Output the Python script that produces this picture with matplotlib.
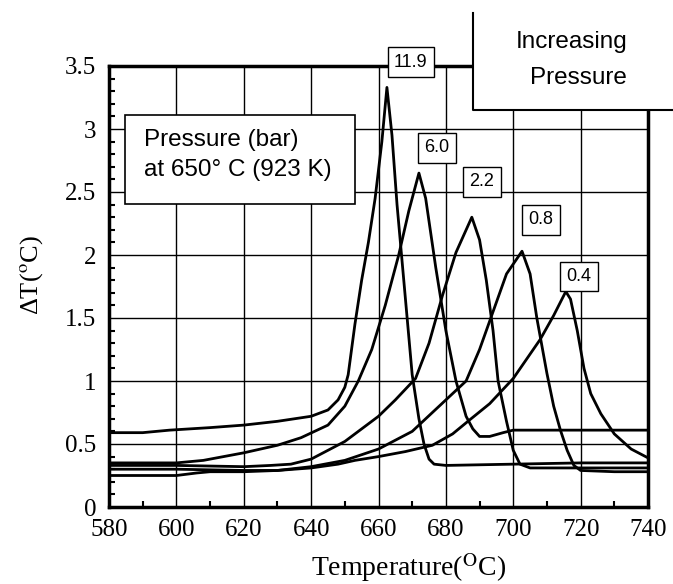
import matplotlib
matplotlib.use("Agg")
import matplotlib.pyplot as plt
from matplotlib.patches import Rectangle
from matplotlib.lines import Line2D
from matplotlib.ticker import MultipleLocator

plt.rcParams["mathtext.fontset"] = "stix"

# curves: temperature (C) and delta T (C)
t_119 = [580, 590, 598, 610, 620, 630, 640, 645, 648, 650, 651, 653, 655, 657,
         659, 661, 662.5, 664, 665.5, 667, 668.5, 670, 672, 673.5, 675,
         676.5, 680, 700, 720, 740]
dt_119 = [0.59, 0.59, 0.61, 0.63, 0.65, 0.68, 0.72, 0.77, 0.85, 0.95, 1.05, 1.45,
          1.8, 2.1, 2.45, 2.9, 3.33, 2.95, 2.4, 1.95, 1.5, 1.05, 0.7, 0.5, 0.38,
          0.34, 0.33, 0.34, 0.35, 0.35]

t_60 = [580, 600, 608, 620, 630, 637, 645, 650, 654, 658, 662, 666, 669, 672,
        674, 677, 680, 683, 686, 688, 690, 693, 697, 700, 740]
dt_60 = [0.35, 0.35, 0.37, 0.43, 0.49, 0.55, 0.65, 0.8, 1.0, 1.25, 1.6, 2.0,
         2.35, 2.65, 2.45, 1.9, 1.4, 1.0, 0.72, 0.62, 0.56, 0.56, 0.59, 0.61, 0.61]

t_22 = [580, 600, 620, 628, 634, 640, 645, 650, 655, 660, 665, 671, 675, 679,
        683, 687.7, 690, 692, 694, 695.5, 698, 700, 702, 705, 720, 740]
dt_22 = [0.33, 0.33, 0.32, 0.33, 0.34, 0.38, 0.45, 0.52, 0.62, 0.72, 0.85, 1.02,
         1.3, 1.68, 2.02, 2.30, 2.12, 1.8, 1.4, 1.0, 0.68, 0.45, 0.34, 0.31,
         0.31, 0.31]

t_08 = [580, 600, 620, 630, 640, 650, 660, 670, 678, 686, 690, 694, 698, 702.6,
        705, 707, 710, 712, 714, 716, 718, 720, 730, 740]
dt_08 = [0.30, 0.30, 0.29, 0.29, 0.32, 0.37, 0.46, 0.6, 0.8, 1.0, 1.25, 1.55,
         1.85, 2.03, 1.85, 1.5, 1.06, 0.8, 0.61, 0.45, 0.33, 0.29, 0.28, 0.28]

t_04 = [580, 600, 606, 610, 620, 630, 640, 648, 653, 660, 668, 676, 682, 687,
        693, 700, 708, 712, 715.6, 717, 719, 721, 723, 726, 730, 735, 740]
dt_04 = [0.25, 0.25, 0.27, 0.28, 0.28, 0.29, 0.31, 0.34, 0.37, 0.40, 0.44, 0.49,
         0.58, 0.69, 0.82, 1.02, 1.33, 1.52, 1.71, 1.65, 1.4, 1.1, 0.9, 0.74,
         0.58, 0.46, 0.39]

curves = [(t_119, dt_119), (t_60, dt_60), (t_22, dt_22), (t_08, dt_08), (t_04, dt_04)]

# pressure labels and where they sit (data coords)
p_labels = ["11.9", "6.0", "2.2", "0.8", "0.4"]
p_lab_t = [669.6, 677.4, 690.7, 708.2, 719.5]
p_lab_dt = [3.53, 2.85, 2.58, 2.28, 1.83]

x_ticks = [580, 600, 620, 640, 660, 680, 700, 720, 740]
y_ticks = [0, 0.5, 1, 1.5, 2, 2.5, 3, 3.5]
y_ticklabels = ["0", "0.5", "1", "1.5", "2", "2.5", "3", "3.5"]

W, H = 673, 584
fig = plt.figure(figsize=(W / 100, H / 100), dpi=100)
ax = fig.add_axes([109 / W, 1 - 507 / H, 539 / W, 441 / H])

for t, d in curves:
    ax.plot(t, d, color="black", lw=2.0, zorder=3)

ax.set_xlim(580, 740)
ax.set_ylim(0, 3.5)
ax.set_xticks(x_ticks)
ax.set_xticklabels([str(v) for v in x_ticks])
ax.set_yticks(y_ticks)
ax.set_yticklabels(y_ticklabels)
ax.xaxis.set_minor_locator(MultipleLocator(10))
ax.yaxis.set_minor_locator(MultipleLocator(0.1))
ax.tick_params(which="major", length=0, pad=9)
ax.tick_params(which="minor", direction="in", length=4, width=1.5)
for lab in ax.get_xticklabels() + ax.get_yticklabels():
    lab.set_family("Liberation Serif")
    lab.set_fontsize(18)
ax.grid(which="major", color="black", lw=1.0)
ax.set_axisbelow(True)
for s in ax.spines.values():
    s.set_linewidth(2.5)

for lab, t, d in zip(p_labels, p_lab_t, p_lab_dt):
    ax.text(t, d, lab, ha="center", va="center", fontsize=13,
            family="Liberation Sans", zorder=6, clip_on=False,
            bbox=dict(boxstyle="square,pad=0.35", fc="white", ec="black", lw=1.0))

# "Pressure (bar)" box
fig.add_artist(Rectangle((125 / W, 1 - 204 / H), 230 / W, 89 / H,
                         transform=fig.transFigure, fc="white", ec="black",
                         lw=1.2, zorder=4))
fig.text(144 / W, 1 - 140 / H, "Pressure (bar)", fontsize=17.5,
         family="Liberation Sans", va="center", ha="left", zorder=5)
fig.text(144 / W, 1 - 170 / H, "at 650° C (923 K)", fontsize=17.5,
         family="Liberation Sans", va="center", ha="left", zorder=5)

# "Increasing Pressure" box over the top right corner
fig.add_artist(Rectangle((473 / W, 1 - 110 / H), 210 / W, 97 / H,
                         transform=fig.transFigure, fc="white", ec="none", zorder=4))
fig.add_artist(Line2D([473 / W, 473 / W, 1.0], [1 - 13 / H, 1 - 110 / H, 1 - 110 / H],
                      transform=fig.transFigure, color="black", lw=1.5, zorder=5))
fig.text(572 / W, 1 - 42 / H, "Increasing", fontsize=17.5, family="Liberation Sans",
         ha="center", va="center", zorder=6)
fig.text(578 / W, 1 - 78 / H, "Pressure", fontsize=17.5, family="Liberation Sans",
         ha="center", va="center", zorder=6)

fig.text(409 / W, 1 - 568 / H, r"Temperature($^{\mathrm{O}}$C)", fontsize=20,
         family="Liberation Serif", ha="center", va="center")
fig.text(32 / W, 1 - 275 / H, r"ΔT($^{\mathrm{o}}$C)", fontsize=19,
         family="Liberation Serif", ha="center", va="center", rotation=90)

fig.savefig("out.png", dpi=100)
